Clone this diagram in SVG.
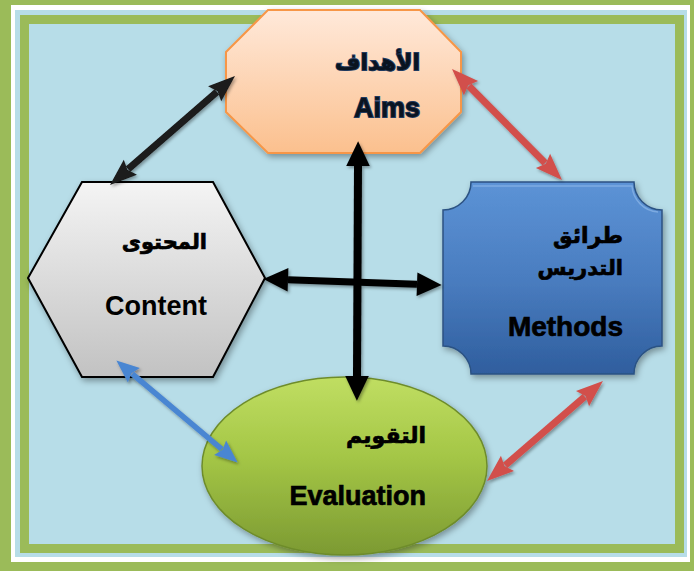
<svg xmlns="http://www.w3.org/2000/svg" width="694" height="571" viewBox="0 0 694 571">
<defs>
<style>
.en{font-family:"Liberation Sans",Arial,sans-serif;font-weight:bold;text-anchor:end}
.ar{font-family:"DejaVu Sans","Noto Sans",sans-serif;font-weight:bold;text-anchor:end}
.outl{fill:#0a1420;stroke:#1F3A5F;stroke-width:1.8;paint-order:stroke}
.blk{fill:#000;stroke:#000;stroke-width:0.7}
.sh{filter:url(#shadow)}
.arrow{fill:none;stroke-linecap:butt}
</style>
<filter id="shadow" x="-20%" y="-20%" width="140%" height="140%">
<feDropShadow dx="2" dy="3" stdDeviation="3" flood-color="#000" flood-opacity="0.35"/>
</filter>
<filter id="ashadow" x="-20%" y="-20%" width="140%" height="140%">
<feDropShadow dx="1.5" dy="2" stdDeviation="1.5" flood-color="#000" flood-opacity="0.35"/>
</filter>
<linearGradient id="gPeach" x1="0" y1="0" x2="0" y2="1">
<stop offset="0" stop-color="#FFE9DA"/><stop offset="1" stop-color="#FBC08E"/>
</linearGradient>
<linearGradient id="gBlue" x1="0" y1="0" x2="0" y2="1">
<stop offset="0" stop-color="#5C93D6"/><stop offset="0.5" stop-color="#4A7DC0"/><stop offset="1" stop-color="#2F5E9E"/>
</linearGradient>
<linearGradient id="gGrey" x1="0" y1="0" x2="0" y2="1">
<stop offset="0" stop-color="#F4F4F4"/><stop offset="1" stop-color="#C2C2C2"/>
</linearGradient>
<linearGradient id="gGreen" x1="0" y1="0" x2="0" y2="1">
<stop offset="0" stop-color="#C0DE62"/><stop offset="0.45" stop-color="#A4C646"/><stop offset="1" stop-color="#7C9A32"/>
</linearGradient>
<marker id="hBlack" markerUnits="userSpaceOnUse" markerWidth="30" markerHeight="30" viewBox="-3 -12 28 24" refX="0" refY="0" orient="auto-start-reverse">
<path d="M0,-11 L23,0 L0,11 Z" fill="#000"/>
</marker>
<marker id="hDark" markerUnits="userSpaceOnUse" markerWidth="30" markerHeight="24" viewBox="-4 -11 30 22" refX="0" refY="0" orient="auto-start-reverse">
<path d="M-3,-10 L24,0 L-3,10 L1,0 Z" fill="#1a1a1a"/>
</marker>
<marker id="hRed" markerUnits="userSpaceOnUse" markerWidth="30" markerHeight="24" viewBox="-4 -11 30 22" refX="0" refY="0" orient="auto-start-reverse">
<path d="M-3,-10 L24,0 L-3,10 L1,0 Z" fill="#D24F4C"/>
</marker>
<marker id="hBlue" markerUnits="userSpaceOnUse" markerWidth="26" markerHeight="22" viewBox="-3 -10 25 20" refX="0" refY="0" orient="auto-start-reverse">
<path d="M-2,-9 L20,0 L-2,9 L1,0 Z" fill="#4A86D2"/>
</marker>
</defs>

<g id="frame">
<rect x="0" y="0" width="694" height="571" fill="#9BBB59"/>
<rect x="11" y="5" width="679" height="557" fill="#FFFFFF"/>
<rect x="15" y="10" width="672" height="547" fill="#B7DDE8"/>
<rect x="20" y="15" width="664" height="538" fill="#9BBB59"/>
<rect x="29" y="24" width="646" height="520" fill="#B7DDE8"/>
</g>

<g id="aims">
<polygon class="sh" points="268,10 420,10 461,52 461,112 420,153 268,153 226,112 226,52" fill="url(#gPeach)" stroke="#F79646" stroke-width="2"/>
<text class="ar outl" x="420" y="70" font-size="22">الأهداف</text>
<text class="en outl" x="420" y="117" font-size="27">Aims</text>
</g>

<g id="methods">
<path class="sh" d="M471,182 L634,182 A28,28 0 0 0 662,210 L662,346 A28,28 0 0 0 634,374 L471,374 A28,28 0 0 0 443,346 L443,210 A28,28 0 0 0 471,182 Z" fill="url(#gBlue)" stroke="#2C5283" stroke-width="1.5"/>
<path d="M473,186 L632,186 A28,28 0 0 0 658,212" fill="none" stroke="#8DB6E8" stroke-width="1.5" opacity="0.7"/>
<text class="ar blk" x="623" y="243" font-size="22">طرائق</text>
<text class="ar blk" x="623" y="275" font-size="21">التدريس</text>
<text class="en blk" x="623" y="336" font-size="28">Methods</text>
</g>

<g id="content">
<polygon class="sh" points="82,182 213,182 265,278 213,377 82,377 28,278" fill="url(#gGrey)" stroke="#000" stroke-width="2"/>
<text class="ar blk" x="207" y="249" font-size="21">المحتوى</text>
<text class="en" x="207" y="315" font-size="27" fill="#000">Content</text>
</g>

<g id="evaluation">
<ellipse class="sh" cx="344.5" cy="466" rx="142.5" ry="89" fill="url(#gGreen)" stroke="#6E8C2C" stroke-width="1.5"/>
<text class="ar blk" x="426" y="443" font-size="22">التقويم</text>
<text class="en blk" x="426" y="505" font-size="27">Evaluation</text>
</g>

<g id="connectors" filter="url(#ashadow)">
<line class="arrow" x1="216.9" y1="91.8" x2="128.1" y2="169.2" stroke="#1a1a1a" stroke-width="7" marker-start="url(#hDark)" marker-end="url(#hDark)"/>
<line class="arrow" x1="468.9" y1="86.0" x2="545.1" y2="163.0" stroke="#D24F4C" stroke-width="7" marker-start="url(#hRed)" marker-end="url(#hRed)"/>
<line class="arrow" x1="505.2" y1="465.3" x2="584.8" y2="396.7" stroke="#D24F4C" stroke-width="7" marker-start="url(#hRed)" marker-end="url(#hRed)"/>
<line class="arrow" x1="132.3" y1="373.9" x2="221.7" y2="449.1" stroke="#4A86D2" stroke-width="5.5" marker-start="url(#hBlue)" marker-end="url(#hBlue)"/>
<line class="arrow" x1="358" y1="166" x2="357" y2="376" stroke="#000" stroke-width="8" marker-start="url(#hBlack)" marker-end="url(#hBlack)"/>
<line class="arrow" x1="288" y1="279.8" x2="417" y2="284.2" stroke="#000" stroke-width="7" marker-start="url(#hBlack)" marker-end="url(#hBlack)"/>
</g>
</svg>
